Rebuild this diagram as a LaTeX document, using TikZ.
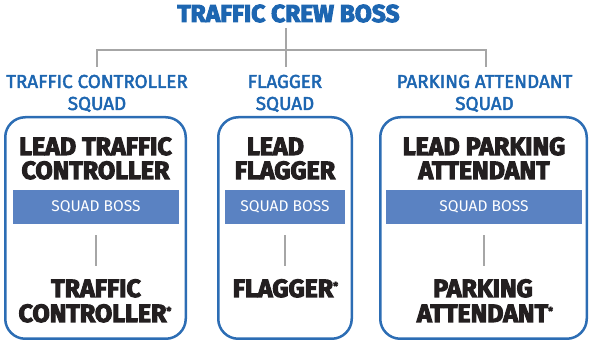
\documentclass[tikz,border=0pt]{standalone}
\usepackage{fontspec}
\setmainfont{Fira Sans}
\newfontfamily\heavyf{Fira Sans}[BoldFeatures={FakeBold=4}]
\newfontfamily\titlef{Fira Sans}[BoldFeatures={FakeBold=4}]
\newfontfamily\medf{Fira Sans}[FakeBold=2.5]
\definecolor{titleblue}{HTML}{1D66B1}
\definecolor{boxblue}{HTML}{2C6DB4}
\definecolor{barblue}{HTML}{5A82C2}
\definecolor{lgray}{HTML}{A6A6A6}
\definecolor{ink}{HTML}{231F20}
\newcommand{\myast}{\raisebox{7pt}{\fontsize{11}{11}\selectfont *}}
\tikzset{
  title/.style={anchor=base, inner sep=0pt, text height=16.5pt, text depth=0pt, text=titleblue,
    font=\titlef\bfseries\fontsize{24.5}{24.5}\selectfont},
  squad/.style={anchor=base, inner xsep=0pt, inner ysep=8pt, text height=13pt, text depth=0pt, text=titleblue,
    font=\medf\fontsize{18.8}{18.8}\selectfont},
  squadbox/.style={draw=boxblue, line width=2.5pt, rounded corners=20pt, inner sep=0pt},
  bar/.style={fill=barblue, inner sep=0pt, text=white, font=\fontsize{15.5}{15.5}\selectfont},
  role/.style={anchor=base, inner sep=0pt, text height=17.5pt, text depth=0pt, text=ink,
    font=\heavyf\bfseries\fontsize{25}{25}\selectfont},
  conn/.style={draw=lgray, line width=2.5pt},
}
\begin{document}
\begin{tikzpicture}[x=1pt,y=-1pt]
\useasboundingbox (0,0) rectangle (590,342);
% title
\node[title] (boss) at (288.5,22) {TRAFFIC CREW BOSS};
% squad labels
\node[squad] (sq1a) at (97,88) {TRAFFIC CONTROLLER};
\node[squad] (sq1b) at (97,110) {SQUAD};
\node[squad] (sq2a) at (285,88) {FLAGGER};
\node[squad] (sq2b) at (285,110) {SQUAD};
\node[squad] (sq3a) at (484.5,88) {PARKING ATTENDANT};
\node[squad] (sq3b) at (484.5,110) {SQUAD};
% tree connectors
\draw[conn, shorten <=6pt] (boss.south -| 286,0) -- (286,0 |- sq2a.north);
\draw[conn] (sq1a.north) -- ++(0,-17) -| (486,0 |- sq3a.north);
% boxes
\node[squadbox, minimum width=180.5pt, minimum height=221.5pt] (b1) at (95.5,228) {};
\node[squadbox, minimum width=133.5pt, minimum height=221.5pt] (b2) at (285,228) {};
\node[squadbox, minimum width=206.5pt, minimum height=221.5pt] (b3) at (483.5,228) {};
% bars
\node[bar, minimum width=166pt, minimum height=34pt] (bar1) at (96,207) {SQUAD BOSS};
\node[bar, minimum width=120pt, minimum height=34pt] (bar2) at (285,207) {SQUAD BOSS};
\node[bar, minimum width=196pt, minimum height=34pt] (bar3) at (484,207) {SQUAD BOSS};
% lead roles
\node[role] (l1a) at (95.5,155) {LEAD TRAFFIC};
\node[role] (l1b) at (95.5,179) {CONTROLLER};
\node[role] (l2a) at (275.5,155) {LEAD};
\node[role] (l2b) at (285,179) {FLAGGER};
\node[role] (l3a) at (484,155) {LEAD PARKING};
\node[role] (l3b) at (484,179) {ATTENDANT};
% members
\node[role] (m1a) at (96,297) {TRAFFIC};
\node[role] (m1b) at (95,322) {CONTROLLER\myast};
\node[role] (m2a) at (285.5,297) {FLAGGER\myast};
\node[role] (m3a) at (483,297) {PARKING};
\node[role] (m3b) at (485,322) {ATTENDANT\myast};
% inner connectors
\draw[conn, shorten <=11pt, shorten >=13pt] (bar1.south) -- (bar1.south |- m1a.north);
\draw[conn, shorten <=11pt, shorten >=13pt] (bar2.south) -- (bar2.south |- m2a.north);
\draw[conn, shorten <=11pt, shorten >=13pt] (bar3.south) -- (bar3.south |- m3a.north);
\end{tikzpicture}
\end{document}
